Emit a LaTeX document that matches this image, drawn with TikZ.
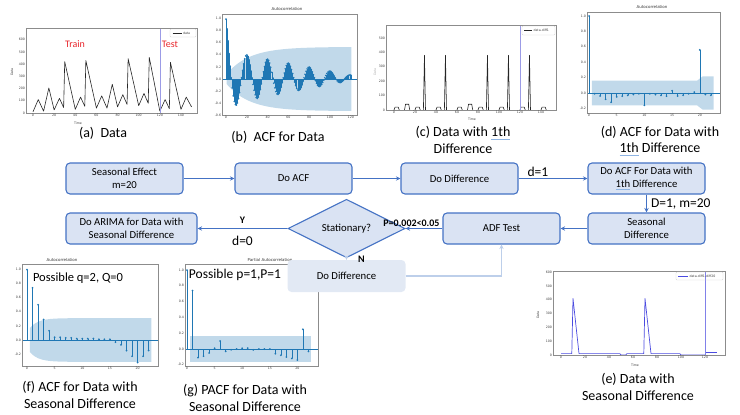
\documentclass[tikz,border=0pt]{standalone}
\usepackage{fontspec}
\setmainfont{Carlito}
\newfontfamily\plotfont{DejaVu Sans}
\usepackage{tikz}
\usetikzlibrary{shapes.geometric, arrows.meta, positioning}

\definecolor{flowblue}{HTML}{4472C4}
\definecolor{flowfill}{HTML}{DAE3F3}
\definecolor{fadefill}{HTML}{E2E9F4}
\definecolor{fadeline}{HTML}{BDCFEA}
\definecolor{acfblue}{HTML}{1F77B4}
\definecolor{trainred}{HTML}{E8262C}
\definecolor{splitline}{HTML}{9B9BE6}
\definecolor{diffblue}{HTML}{4B4BE0}
\definecolor{splblue}{HTML}{8EB4E3}

% spell-check style underline
\newcommand{\spl}[1]{\setbox0\hbox{#1}\leavevmode\rlap{\color{splblue}\rule[-2.8pt]{\wd0}{1.1pt}}\box0\relax}

\begin{document}
\begin{tikzpicture}[x=1pt, y=-1pt,
    flowbox/.style={draw=flowblue, line width=1.1pt, fill=flowfill, rounded corners=4pt, minimum width=117pt, minimum height=31pt, align=center, font=\fontsize{10.7}{13}\selectfont},
    fadebox/.style={fill=fadefill, rounded corners=4pt, minimum width=118pt, minimum height=32pt, font=\fontsize{10.7}{13}\selectfont},
    decide/.style={diamond, draw=flowblue, line width=1.1pt, fill=flowfill, minimum width=117pt, minimum height=37pt, inner sep=0pt, font=\fontsize{10.7}{13}\selectfont},
    arr/.style={-{Stealth[length=4.5pt, width=4.5pt]}, flowblue, line width=1.1pt},
    fadearr/.style={-{Stealth[length=4.5pt, width=4.5pt]}, fadeline, line width=1.1pt},
    lbl/.style={text=black, font=\fontsize{13.5}{15}\selectfont, inner sep=1pt},
    yn/.style={text=black, font=\bfseries\fontsize{10}{12}\selectfont, inner sep=1pt},
    caption/.style={align=center, font=\fontsize{14}{16.5}\selectfont},
    note/.style={font=\fontsize{12.5}{15}\selectfont, inner sep=0pt},
    axbox/.style={draw=black!45, line width=0.4pt},
    tick/.style={font=\plotfont\fontsize{3.2}{3.6}\selectfont, text=black!75, inner sep=0.8pt},
    ptitle/.style={font=\plotfont\fontsize{4}{4.5}\selectfont, text=black!80, inner sep=0pt},
    legbox/.style={draw=black!20, line width=0.3pt, rounded corners=0.8pt},
    stem/.style={acfblue, line width=0.45pt},
    band/.style={fill=acfblue, fill opacity=0.28},
    series/.style={black!85, line width=0.6pt, line join=round},
    split/.style={splitline, line width=0.5pt},
]
\useasboundingbox (0,0) rectangle (740,415);

% (a) data
\begin{scope}[shift={(33,113)}, x=1.057pt, y=0.1222pt]
  \draw[series] plot coordinates {(0,10) (5,110) (10,15) (15,205) (20,25) (25,120) (29,45) (30,420) (40,30) (45,130) (49,55) (50,430) (60,40) (65,140) (70,40) (75,235) (80,50) (85,150) (89,70) (90,445) (100,60) (105,160) (109,80) (110,455) (120,15) (125,110) (129,35) (130,415) (140,30) (145,130) (150,50)};
  \draw[split] (120,0) -- (120,695);
  \draw[axbox] (-6.6,0) rectangle (155.2,695);
  \foreach \v in {0,100,...,600} \node[tick, left] (ay\v) at (-6.6,\v) {\v};
  \foreach \t in {0,20,...,140} \node[tick, below] (ax\t) at (\t,0) {\t};
\end{scope}
\node[tick] (atime) at (78,123) {Time};
\node[tick, rotate=90] (adata) at (12,72) {Data};
\draw[legbox] (170,29) rectangle (196,37);
\draw[series] (172.5,33) -- (181.5,33);
\node[tick, right] (aleg) at (182,33) {data};
\node[font=\fontsize{10}{12}\selectfont, text=trainred] (train) at (75,44) {Train};
\node[font=\fontsize{10}{12}\selectfont, text=trainred] (test) at (170,44) {Test};
\node[caption] (capa) at (103,133) {(a)\ \ Data};

% (b) ACF of the data
\node[ptitle] (tb) at (287,9) {Autocorrelation};
\begin{scope}[shift={(226,79)}, x=1.04pt, y=60.5pt]
  \fill[band] plot[domain=0.5:120.5, samples=61] (\x, {0.07+0.46*(1-exp(-\x/22))}) -- plot[domain=120.5:0.5, samples=61] (\x, {-0.07-0.46*(1-exp(-\x/22))}) -- cycle;
  \draw[acfblue, line width=0.6pt] (-3.8,0) -- (126,0);
  \foreach \k in {0,...,120} {
    \pgfmathsetmacro\rv{(0.44+0.53*exp(-\k/4)-0.0033*\k)*cos(18*\k)+0.02}
    \draw[stem] (\k,0) -- (\k,\rv);
    \fill[acfblue] (\k,\rv) circle (0.95pt);
  }
  \draw[axbox] (-3.8,-0.595) rectangle (126,1.074);
  \foreach \v [count=\i] in {-0.6,-0.4,-0.2,0.0,0.2,0.4,0.6,0.8,1.0} \node[tick, left] (by\i) at (-3.8,\v) {\v};
  \foreach \t in {0,20,...,120} \node[tick, below] (bx\t) at (\t,-0.595) {\t};
\end{scope}
\node[caption] (capb) at (278,137) {(b)\ \ ACF for Data};

% (c) first difference
\begin{scope}[shift={(394,110)}, x=1.05pt, y=0.144pt]
  \draw[series] (0,0) -- (150,0);
  \foreach \s/\h in {0/20,10/40,20/20,40/20,60/20,70/40,80/20,100/20,120/20,140/20}
    \draw[series] (\s,0) -- (\s+1,\h) -- (\s+4,\h) -- (\s+5,0);
  \foreach \s in {29,49,89,109,129}
    \draw[series] (\s-1,0) -- (\s,380) -- (\s+1,0);
  \draw[split, line width=1pt] (120,0) -- (120,590);
  \draw[axbox] (-7.6,0) rectangle (154,590);
  \foreach \v in {0,100,...,500} \node[tick, left] (cy\v) at (-7.6,\v) {\v};
  \foreach \t in {0,20,...,140} \node[tick, below] (cx\t) at (\t,0) {\t};
\end{scope}
\node[tick] (ctime) at (472,119) {Time};
\node[tick, rotate=90, text=black!30] (cdata) at (375,72) {Data};
\draw[legbox] (522,26) rectangle (555,35);
\draw[series] (524,30.5) -- (532,30.5);
\node[tick, right] (cleg) at (532.5,30.5) {data-diff1};
\node[caption] (capc) at (463,140) {(c) Data with \spl{1th}\\Difference};

% (d) ACF of the first difference
\node[ptitle] (td) at (652,7) {Autocorrelation};
\begin{scope}[shift={(589,93)}, x=5.54pt, y=77pt]
  \fill[band] (0.5,0.16) -- (19.5,0.16) -- (20.5,0.215) -- (22.5,0.215) -- (22.5,-0.215) -- (20.5,-0.215) -- (19.5,-0.16) -- (0.5,-0.16) -- cycle;
  \draw[acfblue, line width=0.6pt] (-0.36,0) -- (23.6,0);
  \foreach \v [count=\k from 0] in {1.0,-0.01,-0.04,-0.08,-0.12,-0.05,-0.04,-0.03,-0.02,-0.01,-0.16,-0.01,-0.02,-0.03,-0.04,0.03,-0.04,-0.03,-0.01,0.01,0.56,-0.02,-0.03} {
    \draw[stem] (\k,0) -- (\k,\v);
    \fill[acfblue] (\k,\v) circle (1pt);
  }
  \draw[axbox] (-0.36,-0.26) rectangle (23.6,1.05);
  \foreach \v [count=\i] in {-0.2,0.0,0.2,0.4,0.6,0.8,1.0} \node[tick, left] (dy\i) at (-0.36,\v) {\v};
  \foreach \t in {0,5,...,20} \node[tick, below] (dx\t) at (\t,-0.26) {\t};
\end{scope}
\node[caption] (capd) at (660,141) {(d) ACF for Data with\\\spl{1th} Difference};

% (e) seasonal difference
\begin{scope}[shift={(561,355)}, x=1.2pt, y=0.138pt]
  \draw[diffblue, line width=0.7pt, line join=round] (0,10) -- (9,10) -- (10,410) -- (15,10) -- (49,10) -- (50,0) -- (54,0) -- (55,10) -- (69,10) -- (70,410) -- (75,10) -- (99,10) -- (100,0) -- (120,0);
  \draw[diffblue, line width=0.7pt] (120,20) -- (130,20);
  \draw[split, diffblue!70] (120,0) -- (120,609);
  \draw[axbox] (-6.7,0) rectangle (136.7,609);
  \foreach \v in {0,100,...,600} \node[tick, left] (ey\v) at (-6.7,\v) {\v};
  \foreach \t in {0,20,...,120} \node[tick, below] (ex\t) at (\t,0) {\t};
\end{scope}
\node[tick] (etime) at (635,365) {Time};
\node[tick, rotate=90] (edata) at (538,315) {Data};
\draw[legbox] (676,272) rectangle (723,280);
\draw[diffblue, line width=0.7pt] (678,276) -- (688,276);
\node[tick, right] (eleg) at (688.5,276) {data-diff1-diff20};
\node[caption] (cape) at (638,387) {(e) Data with\\Seasonal Difference};

% (f) ACF of the seasonal difference
\node[ptitle] (tf) at (62,260) {Autocorrelation};
\begin{scope}[shift={(27,340)}, x=5.53pt, y=70.5pt]
  \fill[band] plot[domain=0.5:22.5, samples=30] (\x, {0.31-0.14*exp(-(\x-0.5)/1.5)}) -- plot[domain=22.5:0.5, samples=30] (\x, {-0.31+0.14*exp(-(\x-0.5)/1.5)}) -- cycle;
  \draw[acfblue, line width=0.6pt] (-0.9,0) -- (23.7,0);
  \foreach \v [count=\k from 0] in {1.0,0.74,0.5,0.29,0.13,0.04,0.04,0.03,0.03,0.02,0.02,0.02,0.02,0.01,0.01,0.01,-0.03,-0.07,-0.15,-0.23,-0.32,-0.23,-0.15} {
    \draw[stem] (\k,0) -- (\k,\v);
    \fill[acfblue] (\k,\v) circle (1pt);
  }
  \draw[axbox] (-0.9,-0.37) rectangle (23.7,1.08);
  \foreach \v [count=\i] in {-0.2,0.0,0.2,0.4,0.6,0.8,1.0} \node[tick, left] (fy\i) at (-0.9,\v) {\v};
  \foreach \t in {0,5,...,20} \node[tick, below] (fx\t) at (\t,-0.37) {\t};
\end{scope}
\node[note] (qnote) at (78,278) {Possible q=2, Q=0};
\node[caption] (capf) at (80,395) {(f) ACF for Data with\\Seasonal Difference};

% (g) PACF of the seasonal difference
\node[ptitle] (tg) at (270,260) {Partial Autocorrelation};
\begin{scope}[shift={(187,349)}, x=5.52pt, y=79pt]
  \fill[band] (0.5,-0.17) rectangle (22.5,0.17);
  \draw[acfblue, line width=0.6pt] (-0.36,0) -- (23.7,0);
  \foreach \v [count=\k from 0] in {1.0,0.74,-0.11,-0.09,-0.05,0.01,0.1,-0.03,-0.01,0.0,0.01,0.01,-0.01,0.0,0.0,0.0,-0.06,-0.08,-0.1,-0.12,-0.14,0.25,-0.03} {
    \draw[stem] (\k,0) -- (\k,\v);
    \fill[acfblue] (\k,\v) circle (1pt);
  }
  \draw[axbox] (-0.36,-0.215) rectangle (23.7,1.076);
  \foreach \v [count=\i] in {-0.2,0.0,0.2,0.4,0.6,0.8,1.0} \node[tick, left] (gy\i) at (-0.36,\v) {\v};
  \foreach \t in {0,5,...,20} \node[tick, below] (gx\t) at (\t,-0.215) {\t};
\end{scope}
\node[note, font=\fontsize{13.5}{15}\selectfont] (pnote) at (235,275) {Possible p=1,P=1};
\node[caption] (capg) at (245,398) {(g) PACF for Data with\\Seasonal Difference};

% Flow
\node[flowbox] (season) at (124.5,178.5) {Seasonal Effect\\m=20};
\node[flowbox] (acf) at (293.5,178.5) {Do ACF};
\node[flowbox] (diff) at (459.5,178.5) {Do Difference};
\node[flowbox] (acfdiff) at (646.5,178.5) {Do ACF For Data with\\\spl{1th} Difference};
\node[flowbox] (sdiff) at (646.5,228.5) {Seasonal\\Difference};
\node[flowbox] (adf) at (501.5,228.5) {ADF Test};
\node[decide] (stat) at (346.5,228.5) {Stationary?};
\node[flowbox, minimum width=131pt] (arima) at (131.5,228.5) {Do ARIMA for Data with\\Seasonal Difference};
\node[fadebox] (diff2) at (346.5,276) {Do Difference};

% Arrows
\draw[arr] (season) -- (acf);
\draw[arr] (acf) -- (diff);
\draw[arr] (diff) -- node[lbl, above, pos=0.28] (done) {d=1} (acfdiff);
\draw[arr] (acfdiff) -- node[lbl, right=3pt] (dseason) {D=1, m=20} (sdiff);
\draw[arr] (sdiff) -- (adf);
\draw[arr] (adf) -- node[yn, above, pos=0.84] (pval) {P=0.002<0.05} (stat);
\draw[arr] (stat) -- node[yn, above=3pt] (yes) {Y} node[lbl, below=6pt] (dzero) {d=0} (arima);
\draw[fadearr] (stat) -- node[yn, right=10pt] (no) {N} (diff2);
\draw[fadearr] (diff2) -| (adf);
\end{tikzpicture}
\end{document}
